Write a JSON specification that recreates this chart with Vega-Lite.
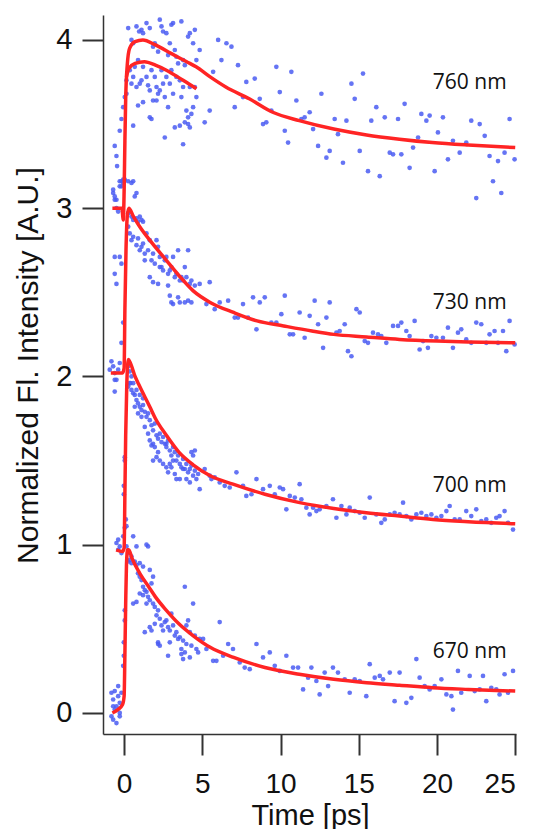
{
"$schema":"https://vega.github.io/schema/vega-lite/v6.json",
"width":413,"height":719,
"autosize":{"type":"none"},
"padding":{"left":103,"top":15,"right":17,"bottom":95},
"background":"white",
"config":{"view":{"stroke":null},"axis":{"grid":false,"domainColor":"#333","domainWidth":1.5,"tickColor":"#333","tickWidth":2,"tickSize":21,"labelFont":"Liberation Sans","labelFontSize":29,"labelColor":"#111","titleFont":"Liberation Sans","titleFontSize":30,"titleFontWeight":"normal","titleColor":"#111"}},
"datasets":{
"pts":[
{"t":0.26,"y":4.07},{"t":0.47,"y":4.00},{"t":0.58,"y":3.98},{"t":0.79,"y":4.08},{"t":0.96,"y":4.05},{"t":1.11,"y":4.06},{"t":1.21,"y":4.04},{"t":1.43,"y":4.10},{"t":1.64,"y":4.07},{"t":1.85,"y":3.96},{"t":1.96,"y":3.98},{"t":2.17,"y":3.93},{"t":2.28,"y":4.12},{"t":2.39,"y":4.08},{"t":2.49,"y":4.05},{"t":2.70,"y":4.04},{"t":2.81,"y":3.91},{"t":2.92,"y":3.98},{"t":3.02,"y":4.09},{"t":3.13,"y":4.10},{"t":3.24,"y":3.94},{"t":3.34,"y":3.90},{"t":3.45,"y":3.86},{"t":3.66,"y":4.11},{"t":3.77,"y":3.88},{"t":3.88,"y":3.85},{"t":4.09,"y":4.02},{"t":4.20,"y":4.04},{"t":4.41,"y":3.98},{"t":4.52,"y":4.06},{"t":4.62,"y":3.88},{"t":4.83,"y":3.94},
{"t":0.15,"y":3.76},{"t":0.36,"y":3.82},{"t":0.47,"y":3.74},{"t":0.58,"y":3.78},{"t":0.68,"y":3.84},{"t":0.79,"y":3.72},{"t":0.89,"y":3.88},{"t":1.00,"y":3.74},{"t":1.11,"y":3.76},{"t":1.21,"y":3.84},{"t":1.43,"y":3.78},{"t":1.53,"y":3.73},{"t":1.64,"y":3.70},{"t":1.75,"y":3.82},{"t":1.85,"y":3.64},{"t":1.96,"y":3.78},{"t":2.07,"y":3.72},{"t":2.17,"y":3.68},{"t":2.28,"y":3.70},{"t":2.39,"y":3.82},{"t":2.49,"y":3.74},{"t":2.60,"y":3.66},{"t":2.70,"y":3.78},{"t":2.81,"y":3.60},{"t":2.92,"y":3.74},{"t":3.02,"y":3.82},{"t":3.13,"y":3.68},{"t":3.34,"y":3.78},{"t":3.56,"y":3.76},{"t":3.66,"y":3.66},{"t":3.77,"y":3.72},{"t":3.98,"y":3.58},{"t":4.09,"y":3.54},{"t":4.20,"y":3.72},{"t":4.30,"y":3.56},{"t":4.41,"y":3.60},{"t":4.52,"y":3.72},{"t":4.62,"y":3.66},
{"t":0.58,"y":3.49},{"t":0.89,"y":3.61},{"t":1.21,"y":3.63},{"t":1.64,"y":3.54},{"t":1.75,"y":3.53},{"t":2.07,"y":3.64},{"t":2.60,"y":3.42},{"t":3.24,"y":3.48},{"t":3.56,"y":3.49},{"t":3.77,"y":3.38},{"t":3.88,"y":3.51},{"t":4.09,"y":3.50},{"t":4.20,"y":3.48},{"t":5.15,"y":3.51},{"t":5.47,"y":3.58},{"t":5.69,"y":3.81},
{"t":-0.60,"y":3.37},{"t":-0.49,"y":3.31},{"t":-0.45,"y":3.25},{"t":-0.28,"y":3.46},{"t":-0.17,"y":3.53},{"t":-0.06,"y":3.60},{"t":0.04,"y":3.66},{"t":0.15,"y":3.68},{"t":-0.70,"y":3.11},{"t":-0.60,"y":3.07},{"t":-0.49,"y":3.05},{"t":-0.28,"y":3.16},{"t":-0.17,"y":3.13},{"t":-0.06,"y":3.17},
{"t":6.01,"y":4.00},{"t":6.22,"y":3.88},{"t":6.54,"y":3.98},{"t":6.86,"y":3.96},{"t":7.07,"y":3.60},{"t":7.28,"y":3.85},{"t":7.60,"y":3.66},{"t":7.81,"y":3.75},{"t":8.35,"y":3.77},{"t":8.67,"y":3.65},{"t":8.88,"y":3.50},{"t":9.09,"y":3.51},{"t":9.41,"y":3.58},{"t":9.73,"y":3.84},{"t":9.95,"y":3.69},{"t":10.27,"y":3.46},{"t":10.48,"y":3.39},{"t":10.69,"y":3.81},{"t":11.01,"y":3.64},{"t":11.33,"y":3.53},{"t":11.54,"y":3.54},{"t":11.86,"y":3.57},{"t":12.08,"y":3.47},{"t":12.40,"y":3.37},{"t":12.61,"y":3.68},{"t":12.93,"y":3.30},{"t":13.14,"y":3.34},{"t":13.46,"y":3.53},{"t":13.67,"y":3.44},{"t":13.99,"y":3.27},{"t":14.21,"y":3.52},{"t":14.53,"y":3.74},{"t":14.74,"y":3.65},{"t":15.06,"y":3.34},{"t":15.27,"y":3.80},{"t":15.59,"y":3.22},{"t":15.80,"y":3.52},{"t":16.12,"y":3.60},{"t":16.34,"y":3.19},{"t":16.66,"y":3.54},{"t":16.98,"y":3.33},{"t":17.19,"y":3.32},{"t":17.51,"y":3.53},{"t":17.72,"y":3.32},{"t":17.93,"y":3.62},{"t":18.25,"y":3.24},{"t":18.47,"y":3.36},{"t":18.79,"y":3.42},{"t":19.00,"y":3.56},{"t":19.32,"y":3.52},{"t":19.53,"y":3.55},{"t":19.85,"y":3.22},{"t":20.06,"y":3.45},{"t":20.38,"y":3.54},{"t":20.70,"y":3.29},{"t":21.02,"y":3.40},{"t":21.45,"y":3.33},{"t":21.87,"y":3.39},{"t":22.19,"y":3.52},{"t":22.51,"y":3.06},{"t":22.73,"y":3.50},{"t":23.05,"y":3.43},{"t":23.36,"y":3.31},{"t":23.58,"y":3.16},{"t":23.90,"y":3.28},{"t":24.11,"y":3.09},{"t":24.32,"y":3.33},{"t":24.64,"y":3.53},{"t":24.96,"y":3.29},
{"t":-0.70,"y":3.09},{"t":-0.60,"y":3.05},{"t":-0.49,"y":3.00},{"t":-0.38,"y":2.98},{"t":-0.28,"y":3.13},{"t":-0.17,"y":3.16},{"t":-0.06,"y":3.15},{"t":0.04,"y":3.17},{"t":0.26,"y":3.16},{"t":0.47,"y":3.15},{"t":0.58,"y":3.16},{"t":0.68,"y":3.07},{"t":0.79,"y":3.09},{"t":-0.60,"y":2.71},{"t":-0.60,"y":2.61},{"t":-0.49,"y":2.55},{"t":-0.28,"y":2.71},{"t":-0.17,"y":2.67},{"t":-0.06,"y":2.32},{"t":-0.17,"y":2.20},{"t":-0.81,"y":2.09},{"t":-0.70,"y":2.06},{"t":-0.60,"y":2.02},{"t":-0.49,"y":1.98},{"t":-0.28,"y":2.08},{"t":-0.92,"y":2.04},{"t":-0.38,"y":2.04},
{"t":0.26,"y":2.97},{"t":0.36,"y":2.98},{"t":0.47,"y":2.95},{"t":0.58,"y":2.93},{"t":0.79,"y":2.94},{"t":0.89,"y":2.92},{"t":1.00,"y":2.95},{"t":1.11,"y":2.93},{"t":1.21,"y":2.92},{"t":0.26,"y":2.89},{"t":0.36,"y":2.85},{"t":0.47,"y":2.81},{"t":0.58,"y":2.83},{"t":0.79,"y":2.78},{"t":0.89,"y":2.82},{"t":1.00,"y":2.75},{"t":1.11,"y":2.77},{"t":1.21,"y":2.79},{"t":1.32,"y":2.73},{"t":1.43,"y":2.85},{"t":1.53,"y":2.75},{"t":1.64,"y":2.81},{"t":1.75,"y":2.69},{"t":1.85,"y":2.73},{"t":1.96,"y":2.67},{"t":2.07,"y":2.81},{"t":2.17,"y":2.77},{"t":2.28,"y":2.71},{"t":2.39,"y":2.65},{"t":2.49,"y":2.63},{"t":2.60,"y":2.69},{"t":2.70,"y":2.71},{"t":2.81,"y":2.61},{"t":2.92,"y":2.63},{"t":3.02,"y":2.65},{"t":3.13,"y":2.71},{"t":3.24,"y":2.59},{"t":3.34,"y":2.61},{"t":3.45,"y":2.75},{"t":3.56,"y":2.57},{"t":3.66,"y":2.59},{"t":3.77,"y":2.57},{"t":3.88,"y":2.65},{"t":3.98,"y":2.59},{"t":4.09,"y":2.75},{"t":4.20,"y":2.55},{"t":4.30,"y":2.57},{"t":1.32,"y":2.69},{"t":1.64,"y":2.59},{"t":1.85,"y":2.56},{"t":2.17,"y":2.55},{"t":2.28,"y":2.65},{"t":2.81,"y":2.54},{"t":2.92,"y":2.48},{"t":3.02,"y":2.44},{"t":3.13,"y":2.43},{"t":3.45,"y":2.47},{"t":3.56,"y":2.44},{"t":3.88,"y":2.44},{"t":4.09,"y":2.45},{"t":4.30,"y":2.44},{"t":4.52,"y":2.54},{"t":4.83,"y":2.55},{"t":5.26,"y":2.43},{"t":5.47,"y":2.56},{"t":5.79,"y":2.40},
{"t":6.11,"y":2.44},{"t":6.65,"y":2.45},{"t":7.07,"y":2.35},{"t":7.28,"y":2.35},{"t":7.60,"y":2.43},{"t":7.92,"y":2.35},{"t":8.24,"y":2.47},{"t":8.46,"y":2.28},{"t":8.67,"y":2.44},{"t":8.99,"y":2.47},{"t":9.41,"y":2.32},{"t":9.73,"y":2.32},{"t":10.05,"y":2.37},{"t":10.27,"y":2.48},{"t":10.59,"y":2.25},{"t":10.80,"y":2.25},{"t":11.22,"y":2.38},{"t":11.54,"y":2.23},{"t":11.86,"y":2.36},{"t":12.18,"y":2.45},{"t":12.40,"y":2.31},{"t":12.72,"y":2.17},{"t":12.93,"y":2.35},{"t":13.14,"y":2.44},{"t":13.57,"y":2.26},{"t":13.78,"y":2.27},{"t":14.10,"y":2.31},{"t":14.31,"y":2.15},{"t":14.53,"y":2.12},{"t":14.85,"y":2.40},{"t":15.06,"y":2.38},{"t":15.38,"y":2.21},{"t":15.59,"y":2.20},{"t":15.91,"y":2.26},{"t":16.23,"y":2.25},{"t":16.44,"y":2.24},{"t":16.76,"y":2.20},{"t":17.19,"y":2.30},{"t":17.51,"y":2.30},{"t":17.72,"y":2.32},{"t":18.04,"y":2.27},{"t":18.25,"y":2.24},{"t":18.57,"y":2.33},{"t":18.89,"y":2.16},{"t":19.11,"y":2.21},{"t":19.42,"y":2.17},{"t":19.64,"y":2.24},{"t":19.96,"y":2.23},{"t":20.38,"y":2.23},{"t":20.70,"y":2.29},{"t":21.02,"y":2.17},{"t":21.34,"y":2.26},{"t":21.55,"y":2.28},{"t":21.87,"y":2.22},{"t":22.19,"y":2.20},{"t":22.51,"y":2.32},{"t":22.83,"y":2.31},{"t":23.15,"y":2.20},{"t":23.36,"y":2.25},{"t":23.68,"y":2.27},{"t":23.90,"y":2.20},{"t":24.22,"y":2.27},{"t":24.43,"y":2.15},{"t":24.64,"y":2.33},{"t":24.96,"y":2.19},
{"t":0.26,"y":2.06},{"t":0.36,"y":2.03},{"t":0.47,"y":2.00},{"t":0.58,"y":1.96},{"t":0.79,"y":1.92},{"t":1.00,"y":1.89},{"t":1.21,"y":1.87},{"t":0.40,"y":1.96},
{"t":-0.60,"y":1.98},{"t":-0.60,"y":1.91},{"t":-0.49,"y":1.01},{"t":-0.38,"y":1.03},{"t":-0.28,"y":0.99},{"t":-0.38,"y":0.97},{"t":-0.17,"y":0.95},{"t":-0.06,"y":1.05},{"t":0.04,"y":1.10},{"t":0.15,"y":0.99},{"t":0.26,"y":0.95},{"t":0.36,"y":0.91},{"t":0.47,"y":0.93},{"t":0.58,"y":1.05},{"t":0.79,"y":0.99},{"t":1.00,"y":0.89},{"t":1.21,"y":0.87},{"t":1.43,"y":1.00},{"t":1.53,"y":0.99},{"t":1.64,"y":0.85},{"t":1.85,"y":0.81},
{"t":-0.02,"y":1.35},{"t":-0.02,"y":1.30},{"t":0.04,"y":1.52},{"t":0.04,"y":1.50},{"t":0.11,"y":1.15},{"t":0.15,"y":1.11},
{"t":0.26,"y":1.94},{"t":0.36,"y":1.96},{"t":0.47,"y":1.92},{"t":0.58,"y":1.90},{"t":0.68,"y":1.89},{"t":0.79,"y":1.86},{"t":0.89,"y":1.84},{"t":1.00,"y":1.82},{"t":1.11,"y":1.80},{"t":1.21,"y":1.83},{"t":1.32,"y":1.79},{"t":1.43,"y":1.76},{"t":1.53,"y":1.78},{"t":1.64,"y":1.74},{"t":1.75,"y":1.71},{"t":1.85,"y":1.68},{"t":1.96,"y":1.72},{"t":2.07,"y":1.65},{"t":2.17,"y":1.63},{"t":2.28,"y":1.66},{"t":2.39,"y":1.61},{"t":2.49,"y":1.64},{"t":2.60,"y":1.60},{"t":2.70,"y":1.58},{"t":2.81,"y":1.62},{"t":2.92,"y":1.56},{"t":3.02,"y":1.53},{"t":3.13,"y":1.58},{"t":3.24,"y":1.55},{"t":3.34,"y":1.50},{"t":3.45,"y":1.53},{"t":3.56,"y":1.48},{"t":3.66,"y":1.46},{"t":3.77,"y":1.51},{"t":3.88,"y":1.45},{"t":3.98,"y":1.48},{"t":4.09,"y":1.43},{"t":4.20,"y":1.45},{"t":4.30,"y":1.47},{"t":4.41,"y":1.41},{"t":4.52,"y":1.44},{"t":4.62,"y":1.39},{"t":4.73,"y":1.42},{"t":4.83,"y":1.33},
{"t":0.68,"y":1.82},{"t":0.89,"y":1.78},{"t":1.11,"y":1.76},{"t":1.32,"y":1.70},{"t":1.53,"y":1.66},{"t":1.64,"y":1.62},{"t":1.75,"y":1.59},{"t":1.85,"y":1.60},{"t":1.96,"y":1.58},{"t":2.07,"y":1.52},{"t":2.17,"y":1.55},{"t":2.28,"y":1.50},{"t":2.49,"y":1.48},{"t":2.70,"y":1.46},{"t":2.81,"y":1.43},{"t":2.92,"y":1.48},{"t":3.02,"y":1.46},{"t":3.13,"y":1.50},{"t":3.24,"y":1.42},{"t":3.34,"y":1.39},{"t":3.56,"y":1.39},{"t":3.77,"y":1.45},{"t":3.98,"y":1.39},{"t":4.20,"y":1.37},{"t":4.30,"y":1.55},{"t":4.41,"y":1.53},{"t":4.52,"y":1.56},{"t":1.85,"y":1.50},{"t":2.70,"y":1.60},
{"t":5.15,"y":1.45},{"t":5.47,"y":1.41},{"t":5.58,"y":1.39},{"t":5.79,"y":1.40},{"t":6.11,"y":1.37},{"t":6.43,"y":1.35},{"t":6.75,"y":1.34},{"t":7.18,"y":1.43},{"t":7.60,"y":1.35},{"t":7.81,"y":1.29},{"t":8.14,"y":1.30},{"t":8.46,"y":1.39},{"t":8.88,"y":1.33},{"t":9.31,"y":1.35},{"t":9.63,"y":1.30},{"t":9.95,"y":1.34},{"t":10.16,"y":1.33},{"t":10.37,"y":1.21},{"t":10.59,"y":1.29},{"t":10.91,"y":1.28},{"t":11.22,"y":1.36},{"t":11.33,"y":1.27},{"t":11.65,"y":1.22},{"t":11.86,"y":1.18},{"t":12.08,"y":1.22},{"t":12.29,"y":1.20},{"t":12.50,"y":1.21},{"t":12.93,"y":1.23},{"t":13.35,"y":1.27},{"t":13.57,"y":1.16},{"t":13.89,"y":1.23},{"t":14.21,"y":1.18},{"t":14.42,"y":1.22},{"t":14.74,"y":1.20},{"t":15.06,"y":1.19},{"t":15.38,"y":1.16},{"t":15.70,"y":1.28},{"t":16.12,"y":1.18},{"t":16.44,"y":1.13},{"t":16.66,"y":1.15},{"t":16.98,"y":1.18},{"t":17.29,"y":1.19},{"t":17.61,"y":1.18},{"t":17.83,"y":1.25},{"t":18.04,"y":1.17},{"t":18.36,"y":1.15},{"t":18.68,"y":1.18},{"t":19.00,"y":1.19},{"t":19.32,"y":1.17},{"t":19.64,"y":1.18},{"t":19.96,"y":1.16},{"t":20.28,"y":1.17},{"t":20.60,"y":1.20},{"t":20.81,"y":1.23},{"t":21.13,"y":1.15},{"t":21.45,"y":1.15},{"t":21.87,"y":1.20},{"t":22.19,"y":1.17},{"t":22.51,"y":1.21},{"t":22.83,"y":1.14},{"t":23.15,"y":1.15},{"t":23.47,"y":1.13},{"t":23.79,"y":1.16},{"t":24.00,"y":1.17},{"t":24.32,"y":1.20},{"t":24.54,"y":1.13},{"t":24.86,"y":1.09},
{"t":-0.81,"y":0.12},{"t":-0.70,"y":0.08},{"t":-0.60,"y":0.02},{"t":-0.49,"y":0.04},{"t":-0.38,"y":0.10},{"t":-0.28,"y":0.06},{"t":-0.17,"y":0.12},{"t":-0.81,"y":-0.02},{"t":-0.70,"y":-0.04},{"t":-0.49,"y":-0.06},{"t":-0.28,"y":0.00},{"t":-0.60,"y":0.13},{"t":-0.38,"y":0.16},{"t":-0.28,"y":-0.02},{"t":-0.70,"y":0.04},
{"t":-0.06,"y":0.28},{"t":-0.02,"y":0.34},{"t":-0.02,"y":0.42},{"t":0.04,"y":0.61},{"t":0.04,"y":0.55},
{"t":0.26,"y":0.90},{"t":0.47,"y":0.89},{"t":0.68,"y":0.90},{"t":0.79,"y":0.88},{"t":0.89,"y":0.83},{"t":1.00,"y":0.81},{"t":1.11,"y":0.79},{"t":1.21,"y":0.75},{"t":1.32,"y":0.73},{"t":0.58,"y":0.65},{"t":0.79,"y":0.66},{"t":1.00,"y":0.71},{"t":1.21,"y":0.70},{"t":1.43,"y":0.72},{"t":1.53,"y":0.69},{"t":1.64,"y":0.67},{"t":1.75,"y":0.77},{"t":1.85,"y":0.65},{"t":1.96,"y":0.63},{"t":2.07,"y":0.58},{"t":2.17,"y":0.61},{"t":2.28,"y":0.56},{"t":2.39,"y":0.52},{"t":2.49,"y":0.49},{"t":2.60,"y":0.54},{"t":2.70,"y":0.55},{"t":2.81,"y":0.51},{"t":2.92,"y":0.49},{"t":3.02,"y":0.59},{"t":3.13,"y":0.52},{"t":3.24,"y":0.46},{"t":3.34,"y":0.48},{"t":3.45,"y":0.44},{"t":3.56,"y":0.45},{"t":3.66,"y":0.38},{"t":3.77,"y":0.43},{"t":3.88,"y":0.36},{"t":3.98,"y":0.41},{"t":4.09,"y":0.55},{"t":4.20,"y":0.48},{"t":4.30,"y":0.40},{"t":4.41,"y":0.65},{"t":4.52,"y":0.46},{"t":4.62,"y":0.38},{"t":4.73,"y":0.36},{"t":4.83,"y":0.44},{"t":1.32,"y":0.48},{"t":1.64,"y":0.51},{"t":2.17,"y":0.42},{"t":2.28,"y":0.40},{"t":2.81,"y":0.34},{"t":2.92,"y":0.42},{"t":3.66,"y":0.35},{"t":3.88,"y":0.75},{"t":3.98,"y":0.52},{"t":1.43,"y":0.65},{"t":1.75,"y":0.49},{"t":1.96,"y":0.53},{"t":2.17,"y":0.41},{"t":3.77,"y":0.32},{"t":4.20,"y":0.33},
{"t":5.05,"y":0.44},{"t":5.26,"y":0.38},{"t":5.69,"y":0.31},{"t":5.90,"y":0.31},{"t":6.11,"y":0.54},{"t":6.33,"y":0.34},{"t":6.65,"y":0.41},{"t":6.96,"y":0.38},{"t":7.39,"y":0.30},{"t":7.71,"y":0.27},{"t":8.03,"y":0.26},{"t":8.46,"y":0.41},{"t":8.88,"y":0.33},{"t":9.31,"y":0.36},{"t":9.63,"y":0.28},{"t":9.95,"y":0.25},{"t":10.37,"y":0.34},{"t":10.80,"y":0.27},{"t":11.12,"y":0.27},{"t":11.44,"y":0.14},{"t":11.76,"y":0.21},{"t":11.97,"y":0.27},{"t":12.29,"y":0.19},{"t":12.50,"y":0.11},{"t":12.82,"y":0.24},{"t":13.04,"y":0.16},{"t":13.35,"y":0.27},{"t":13.67,"y":0.24},{"t":14.10,"y":0.20},{"t":14.42,"y":0.12},{"t":14.74,"y":0.20},{"t":15.06,"y":0.19},{"t":15.48,"y":0.10},{"t":15.70,"y":0.29},{"t":16.02,"y":0.21},{"t":16.34,"y":0.22},{"t":16.55,"y":0.20},{"t":16.98,"y":0.24},{"t":17.29,"y":0.07},{"t":17.61,"y":0.24},{"t":18.04,"y":0.06},{"t":18.36,"y":0.09},{"t":18.68,"y":0.32},{"t":18.89,"y":0.21},{"t":19.21,"y":0.16},{"t":19.53,"y":0.14},{"t":19.85,"y":0.16},{"t":20.28,"y":0.20},{"t":20.60,"y":0.11},{"t":20.92,"y":0.10},{"t":21.02,"y":0.02},{"t":21.34,"y":0.25},{"t":21.55,"y":0.12},{"t":22.09,"y":0.22},{"t":22.41,"y":0.13},{"t":22.73,"y":0.14},{"t":22.94,"y":0.22},{"t":23.15,"y":0.07},{"t":23.47,"y":0.15},{"t":23.79,"y":0.14},{"t":24.00,"y":0.11},{"t":24.32,"y":0.23},{"t":24.54,"y":0.12},{"t":24.86,"y":0.25}
],
"fit":[
{"c":"670","t":-0.75,"y":0.0},{"c":"670","t":-0.4,"y":0.02},{"c":"670","t":-0.1,"y":0.05},{"c":"670","t":0.0,"y":0.1},{"c":"670","t":0.05,"y":0.35},{"c":"670","t":0.1,"y":0.65},{"c":"670","t":0.15,"y":0.88},{"c":"670","t":0.22,"y":0.97},{"c":"670","t":0.3,"y":0.97},{"c":"670","t":0.5,"y":0.92},{"c":"670","t":1.0,"y":0.83},{"c":"670","t":1.64,"y":0.74},{"c":"670","t":2.0,"y":0.69},{"c":"670","t":2.7,"y":0.61},{"c":"670","t":3.5,"y":0.53},{"c":"670","t":4.4,"y":0.46},{"c":"670","t":5.5,"y":0.39},{"c":"670","t":7.0,"y":0.33},{"c":"670","t":9.0,"y":0.27},{"c":"670","t":11.2,"y":0.23},{"c":"670","t":13.4,"y":0.2},{"c":"670","t":15.5,"y":0.18},{"c":"670","t":17.6,"y":0.165},{"c":"670","t":19.7,"y":0.15},{"c":"670","t":22.0,"y":0.14},{"c":"670","t":25.0,"y":0.13},
{"c":"700","t":-0.5,"y":0.97},{"c":"700","t":-0.1,"y":0.96},{"c":"700","t":0.0,"y":0.98},{"c":"700","t":0.05,"y":1.3},{"c":"700","t":0.1,"y":1.65},{"c":"700","t":0.17,"y":1.95},{"c":"700","t":0.27,"y":2.1},{"c":"700","t":0.4,"y":2.08},{"c":"700","t":0.7,"y":2.0},{"c":"700","t":1.0,"y":1.94},{"c":"700","t":1.64,"y":1.82},{"c":"700","t":2.0,"y":1.75},{"c":"700","t":2.7,"y":1.65},{"c":"700","t":3.5,"y":1.55},{"c":"700","t":4.41,"y":1.475},{"c":"700","t":5.5,"y":1.41},{"c":"700","t":6.96,"y":1.36},{"c":"700","t":9.0,"y":1.3},{"c":"700","t":11.22,"y":1.25},{"c":"700","t":13.4,"y":1.215},{"c":"700","t":15.48,"y":1.19},{"c":"700","t":17.6,"y":1.17},{"c":"700","t":19.74,"y":1.15},{"c":"700","t":22.0,"y":1.137},{"c":"700","t":25.0,"y":1.125},
{"c":"730","t":-0.85,"y":2.02},{"c":"730","t":-0.1,"y":2.02},{"c":"730","t":0.0,"y":2.05},{"c":"730","t":0.05,"y":2.4},{"c":"730","t":0.12,"y":2.75},{"c":"730","t":0.2,"y":2.95},{"c":"730","t":0.3,"y":3.0},{"c":"730","t":0.6,"y":2.95},{"c":"730","t":1.0,"y":2.89},{"c":"730","t":1.64,"y":2.81},{"c":"730","t":2.7,"y":2.69},{"c":"730","t":3.5,"y":2.6},{"c":"730","t":4.4,"y":2.51},{"c":"730","t":5.5,"y":2.44},{"c":"730","t":7.0,"y":2.38},{"c":"730","t":8.5,"y":2.33},{"c":"730","t":10.2,"y":2.3},{"c":"730","t":12.0,"y":2.27},{"c":"730","t":13.4,"y":2.25},{"c":"730","t":15.5,"y":2.235},{"c":"730","t":17.6,"y":2.22},{"c":"730","t":20.0,"y":2.21},{"c":"730","t":22.0,"y":2.205},{"c":"730","t":25.0,"y":2.2},
{"c":"760","t":-0.75,"y":3.0},{"c":"760","t":-0.15,"y":3.0},{"c":"760","t":-0.05,"y":2.93},{"c":"760","t":0.0,"y":3.1},{"c":"760","t":0.05,"y":3.4},{"c":"760","t":0.1,"y":3.65},{"c":"760","t":0.2,"y":3.85},{"c":"760","t":0.35,"y":3.95},{"c":"760","t":0.7,"y":3.99},{"c":"760","t":1.2,"y":4.0},{"c":"760","t":2.0,"y":3.97},{"c":"760","t":3.0,"y":3.92},{"c":"760","t":4.0,"y":3.87},{"c":"760","t":4.6,"y":3.84},{"c":"760","t":5.5,"y":3.78},{"c":"760","t":6.5,"y":3.72},{"c":"760","t":8.0,"y":3.65},{"c":"760","t":9.5,"y":3.57},{"c":"760","t":11.2,"y":3.52},{"c":"760","t":13.4,"y":3.47},{"c":"760","t":15.5,"y":3.435},{"c":"760","t":17.6,"y":3.41},{"c":"760","t":19.7,"y":3.39},{"c":"760","t":22.0,"y":3.375},{"c":"760","t":25.0,"y":3.36},
{"c":"760b","t":0.15,"y":3.78},{"c":"760b","t":0.3,"y":3.83},{"c":"760b","t":0.7,"y":3.86},{"c":"760b","t":1.3,"y":3.87},{"c":"760b","t":2.0,"y":3.85},{"c":"760b","t":2.7,"y":3.82},{"c":"760b","t":3.77,"y":3.76},{"c":"760b","t":4.62,"y":3.71}
],
"lab":[{"t":24.45,"y":3.745,"s":"760 nm"},{"t":24.45,"y":2.438,"s":"730 nm"},{"t":24.45,"y":1.351,"s":"700 nm"},{"t":24.45,"y":0.36,"s":"670 nm"}]
},
"encoding":{
"x":{"field":"t","type":"quantitative","scale":{"domain":[-1.35,25.05],"nice":false,"zero":false},"axis":{"values":[0,5,10,15,20,25],"title":"Time [ps]","labelFontSize":28,"labelPadding":15,"titleFontSize":29,"titleX":207,"titleY":90,"titleBaseline":"alphabetic","titleAlign":"center","titleAnchor":null}},
"y":{"field":"y","type":"quantitative","scale":{"domain":[-0.125,4.148],"nice":false,"zero":false},"axis":{"values":[0,1,2,3,4],"title":"Normalized Fl. Intensity [A.U.]","labelPadding":10,"titleAngle":-90,"titleX":-66,"titleY":350,"titleBaseline":"alphabetic","titleAlign":"center","titleAnchor":null}}
},
"layer":[
{"data":{"name":"pts"},"mark":{"type":"circle","size":22,"color":"#4a5cf2","opacity":0.85}},
{"data":{"name":"fit"},"mark":{"type":"line","color":"#ff2424","strokeWidth":3.5,"interpolate":"monotone","clip":true},"encoding":{"detail":{"field":"c"}}},
{"data":{"name":"lab"},"mark":{"type":"text","align":"right","baseline":"middle","font":"Open Sans","fontSize":21,"color":"#111"},"encoding":{"text":{"field":"s"}}}
]
}
